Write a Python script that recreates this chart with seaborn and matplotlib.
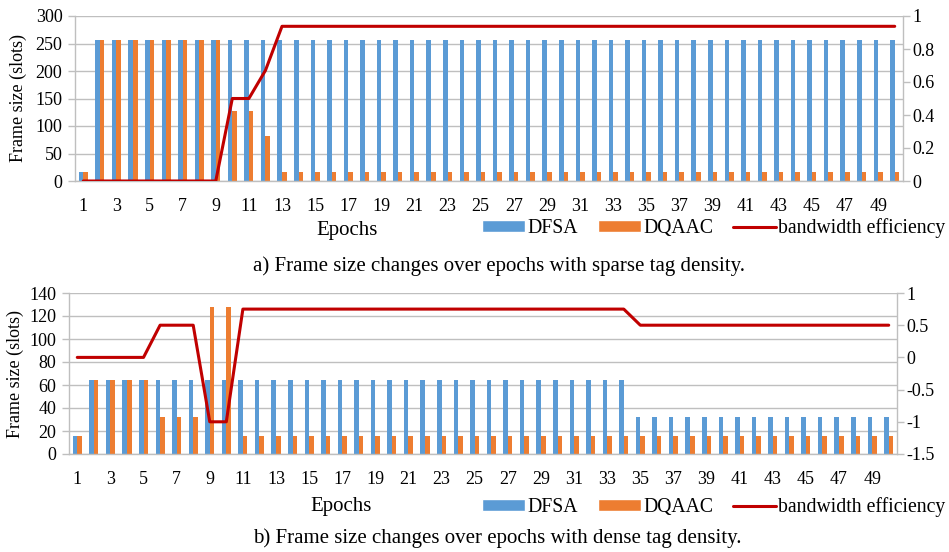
import numpy as np
import pandas as pd
import seaborn as sns
import matplotlib
matplotlib.use("Agg")
import matplotlib.pyplot as plt
from matplotlib.patches import Patch
from matplotlib.lines import Line2D
from matplotlib.ticker import FuncFormatter

# ============================================================
# DATA
# ============================================================

epochs = list(range(1, 51))

# a) sparse tag density
sparse_dfsa = [16, 256, 256, 256, 256, 256, 256, 256, 256, 256,
               256, 256, 256, 256, 256, 256, 256, 256, 256, 256,
               256, 256, 256, 256, 256, 256, 256, 256, 256, 256,
               256, 256, 256, 256, 256, 256, 256, 256, 256, 256,
               256, 256, 256, 256, 256, 256, 256, 256, 256, 256]
sparse_dqaac = [16, 256, 256, 256, 256, 256, 256, 256, 256, 128,
                128, 82, 16, 16, 16, 16, 16, 16, 16, 16,
                16, 16, 16, 16, 16, 16, 16, 16, 16, 16,
                16, 16, 16, 16, 16, 16, 16, 16, 16, 16,
                16, 16, 16, 16, 16, 16, 16, 16, 16, 16]
sparse_eff = [0, 0, 0, 0, 0, 0, 0, 0, 0, 0.5,
              0.5, 0.67, 0.9375, 0.9375, 0.9375, 0.9375, 0.9375, 0.9375, 0.9375, 0.9375,
              0.9375, 0.9375, 0.9375, 0.9375, 0.9375, 0.9375, 0.9375, 0.9375, 0.9375, 0.9375,
              0.9375, 0.9375, 0.9375, 0.9375, 0.9375, 0.9375, 0.9375, 0.9375, 0.9375, 0.9375,
              0.9375, 0.9375, 0.9375, 0.9375, 0.9375, 0.9375, 0.9375, 0.9375, 0.9375, 0.9375]

# b) dense tag density
dense_dfsa = [16, 64, 64, 64, 64, 64, 64, 64, 64, 64,
              64, 64, 64, 64, 64, 64, 64, 64, 64, 64,
              64, 64, 64, 64, 64, 64, 64, 64, 64, 64,
              64, 64, 64, 64, 32, 32, 32, 32, 32, 32,
              32, 32, 32, 32, 32, 32, 32, 32, 32, 32]
dense_dqaac = [16, 64, 64, 64, 64, 32, 32, 32, 128, 128,
               16, 16, 16, 16, 16, 16, 16, 16, 16, 16,
               16, 16, 16, 16, 16, 16, 16, 16, 16, 16,
               16, 16, 16, 16, 16, 16, 16, 16, 16, 16,
               16, 16, 16, 16, 16, 16, 16, 16, 16, 16]
dense_eff = [0, 0, 0, 0, 0, 0.5, 0.5, 0.5, -1, -1,
             0.75, 0.75, 0.75, 0.75, 0.75, 0.75, 0.75, 0.75, 0.75, 0.75,
             0.75, 0.75, 0.75, 0.75, 0.75, 0.75, 0.75, 0.75, 0.75, 0.75,
             0.75, 0.75, 0.75, 0.75, 0.5, 0.5, 0.5, 0.5, 0.5, 0.5,
             0.5, 0.5, 0.5, 0.5, 0.5, 0.5, 0.5, 0.5, 0.5, 0.5]

methods = ["DFSA", "DQAAC"]
line_label = "bandwidth efficiency"
captions = ["a) Frame size changes over epochs with sparse tag density.",
            "b) Frame size changes over epochs with dense tag density."]

BLUE = "#5B9BD5"
ORANGE = "#ED7D31"
RED = "#C00000"
GRID = "#BFBFBF"

# ============================================================
# STYLE
# ============================================================

sns.set_theme(style="white")
plt.rcParams["font.family"] = ["Liberation Serif", "DejaVu Serif"]
plt.rcParams["text.color"] = "black"
plt.rcParams["axes.labelcolor"] = "black"
plt.rcParams["xtick.color"] = "black"
plt.rcParams["ytick.color"] = "black"

FS_TICK = 13
FS_YLABEL = 13
FS_XLABEL = 15
FS_LEGEND = 14.2
FS_CAPTION = 15


def draw_panel(ax, dfsa, dqaac, eff, ylim, yticks, y2lim, y2ticks, ylabel_x, xlabel_pos):
    df = pd.DataFrame({
        "epoch": epochs * 2,
        "size": dfsa + dqaac,
        "method": [methods[0]] * len(epochs) + [methods[1]] * len(epochs),
    })
    sns.barplot(data=df, x="epoch", y="size", hue="method", order=epochs,
                palette=[BLUE, ORANGE], saturation=1, width=0.55, gap=0,
                legend=False, ax=ax, linewidth=0)

    ax.set_xlim(-0.5, len(epochs) - 0.5)
    ax.set_ylim(*ylim)
    ax.set_yticks(yticks)
    ax.set_xticks(range(0, len(epochs), 2))
    ax.set_xticklabels([str(e) for e in epochs[::2]])
    ax.set_axisbelow(True)
    ax.yaxis.grid(True, color=GRID, lw=1)
    ax.xaxis.grid(False)

    for s in ["top", "right"]:
        ax.spines[s].set_visible(False)
    for s in ["left", "bottom"]:
        ax.spines[s].set_color(GRID)
        ax.spines[s].set_linewidth(1)

    ax.tick_params(axis="y", left=True, length=5, color=GRID, width=1,
                   labelsize=FS_TICK, pad=4)
    ax.tick_params(axis="x", bottom=False, labelsize=FS_TICK, pad=6)

    ax.set_ylabel("Frame size (slots)", fontsize=FS_YLABEL, va="center")
    ax.yaxis.set_label_coords(ylabel_x, 0.5)
    ax.set_xlabel("Epochs", fontsize=FS_XLABEL, va="center")
    ax.xaxis.set_label_coords(*xlabel_pos)

    # secondary axis: bandwidth efficiency line
    ax2 = ax.twinx()
    sns.lineplot(x=np.arange(len(epochs)), y=eff, ax=ax2, color=RED, lw=2.2)
    ax2.set_ylim(*y2lim)
    ax2.set_yticks(y2ticks)
    ax2.yaxis.set_major_formatter(FuncFormatter(lambda v, p: f"{v:g}"))
    ax2.tick_params(axis="y", right=True, length=5, color=GRID, width=1,
                    labelsize=FS_TICK, pad=2)
    for s in ["top", "left", "bottom"]:
        ax2.spines[s].set_visible(False)
    ax2.spines["right"].set_color(GRID)
    ax2.spines["right"].set_linewidth(1)
    ax2.grid(False)
    ax2.set_ylabel("")
    return ax2


fig = plt.figure(figsize=(9.49, 5.52), dpi=100)
W, H = 949, 552

ax_a = fig.add_axes([75 / W, 1 - 181 / H, 828 / W, 165 / H])
draw_panel(ax_a, sparse_dfsa, sparse_dqaac, sparse_eff,
           (0, 300), range(0, 301, 50), (0, 1), np.arange(0, 1.01, 0.2),
           -0.0688, (0.3285, -0.297))

ax_b = fig.add_axes([69 / W, 1 - 454 / H, 828 / W, 161 / H])
draw_panel(ax_b, dense_dfsa, dense_dqaac, dense_eff,
           (0, 140), range(0, 141, 20), (-1.5, 1), np.arange(-1.5, 1.01, 0.5),
           -0.0652, (0.329, -0.329))

handles = [Patch(facecolor=BLUE, label=methods[0]),
           Patch(facecolor=ORANGE, label=methods[1]),
           Line2D([0], [0], color=RED, lw=2.2, label=line_label)]

for ycen in [228, 507]:
    fig.legend(handles=handles, loc="center left",
               bbox_to_anchor=(482 / W, 1 - ycen / H), ncol=3, frameon=False,
               fontsize=FS_LEGEND, handlelength=2.2, handleheight=0.5,
               handletextpad=0.1, columnspacing=1.0, borderpad=0,
               borderaxespad=0)

fig.text(499 / W, 1 - 266 / H, captions[0], ha="center", va="center", fontsize=FS_CAPTION)
fig.text(497 / W, 1 - 538 / H, captions[1], ha="center", va="center", fontsize=FS_CAPTION)

fig.savefig("out.png", dpi=100)
